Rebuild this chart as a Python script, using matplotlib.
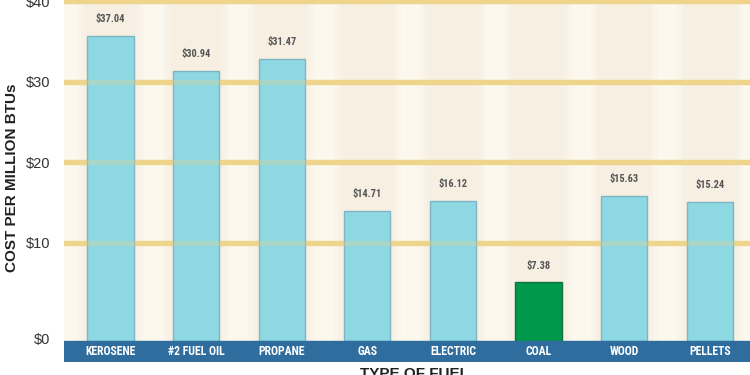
import matplotlib
matplotlib.use("Agg")
from matplotlib import pyplot as plt
from matplotlib import font_manager

fuels = ["KEROSENE", "#2 FUEL OIL", "PROPANE", "GAS", "ELECTRIC", "COAL", "WOOD", "PELLETS"]
bar_heights = [35.7, 31.3, 32.8, 14.0, 15.2, 5.1, 15.8, 15.1]
value_labels = ["$37.04", "$30.94", "$31.47", "$14.71", "$16.12", "$7.38", "$15.63", "$15.24"]
grid_values = [10, 20, 30, 40]
tick_labels = ["$0", "$10", "$20", "$30", "$40"]

# layout constants (data units of the y axis)
BASE = -2.17
BAND_BOTTOM = -4.78
TOP = 40.14

installed = {f.name for f in font_manager.fontManager.ttflist}
narrow = next((n for n in ["Liberation Sans Narrow", "DejaVu Sans Condensed", "Roboto Condensed"]
               if n in installed), "DejaVu Sans")
plain = "Liberation Sans" if "Liberation Sans" in installed else "DejaVu Sans"
narrow_stretch = "normal" if narrow != "DejaVu Sans" else "condensed"

fig = plt.figure(figsize=(7.5, 3.75), dpi=100)
ax = fig.add_axes((64 / 750, 13 / 375, 686 / 750, 362 / 375))
ax.set_facecolor("#fcf8ee")

x = list(range(len(fuels)))
width = 0.54

# soft shading columns behind the bars
for w, a in [(0.78, 0.12), (0.68, 0.15), (0.60, 0.2)]:
    ax.bar(x, TOP - BASE, bottom=BASE, width=w, color="#efe6d4", alpha=a, zorder=0.5, linewidth=0)

for g in grid_values:
    ax.axhline(g, color="#efd48c", lw=3.8, zorder=1)

colors = ["#8dd8e3"] * len(fuels)
edges = ["#7db5c6"] * len(fuels)
colors[fuels.index("COAL")] = "#00994c"
edges[fuels.index("COAL")] = "#127040"

heights = [h - BASE for h in bar_heights]
ax.bar(x, heights, bottom=BASE, width=width, color=colors, edgecolor=edges, linewidth=1, zorder=2)

for g in grid_values:
    ax.axhline(g, color="#efd48c", lw=3.8, alpha=0.3, zorder=3)

ax.axhspan(BAND_BOTTOM, BASE, color="#2e6d9d", zorder=4)
for xi, name in zip(x, fuels):
    ax.text(xi, (BASE + BAND_BOTTOM) / 2, name, color="white", ha="center", va="center",
            fontsize=8.5, fontweight="bold", family=narrow, fontstretch=narrow_stretch, zorder=5)

for xi, h, lab in zip(x, bar_heights, value_labels):
    ax.text(xi, h + 2.1, lab, color="#555555", ha="center", va="center",
            fontsize=7.5, fontweight="bold", family=narrow, fontstretch=narrow_stretch, zorder=5)

ax.set_xlim(-0.543, 7.47)
ax.set_ylim(BAND_BOTTOM, TOP)
ax.set_xticks([])
ax.set_yticks([BASE + 0.3] + grid_values)
ax.set_yticklabels(tick_labels, family=plain, fontsize=10.5, color="#333333")
ax.tick_params(axis="y", length=0, pad=10)
for s in ax.spines.values():
    s.set_visible(False)

fig.text(12 / 750, 1 - 178 / 375, "COST PER MILLION BTUs", rotation=90, ha="center", va="center",
         fontsize=11, fontweight="bold", family=plain, color="#222222")
fig.text(414 / 750, 1 - 367 / 375, "TYPE OF FUEL", ha="center", va="top",
         fontsize=11, fontweight="bold", family=plain, color="#222222")

fig.savefig("out.png", dpi=100)
